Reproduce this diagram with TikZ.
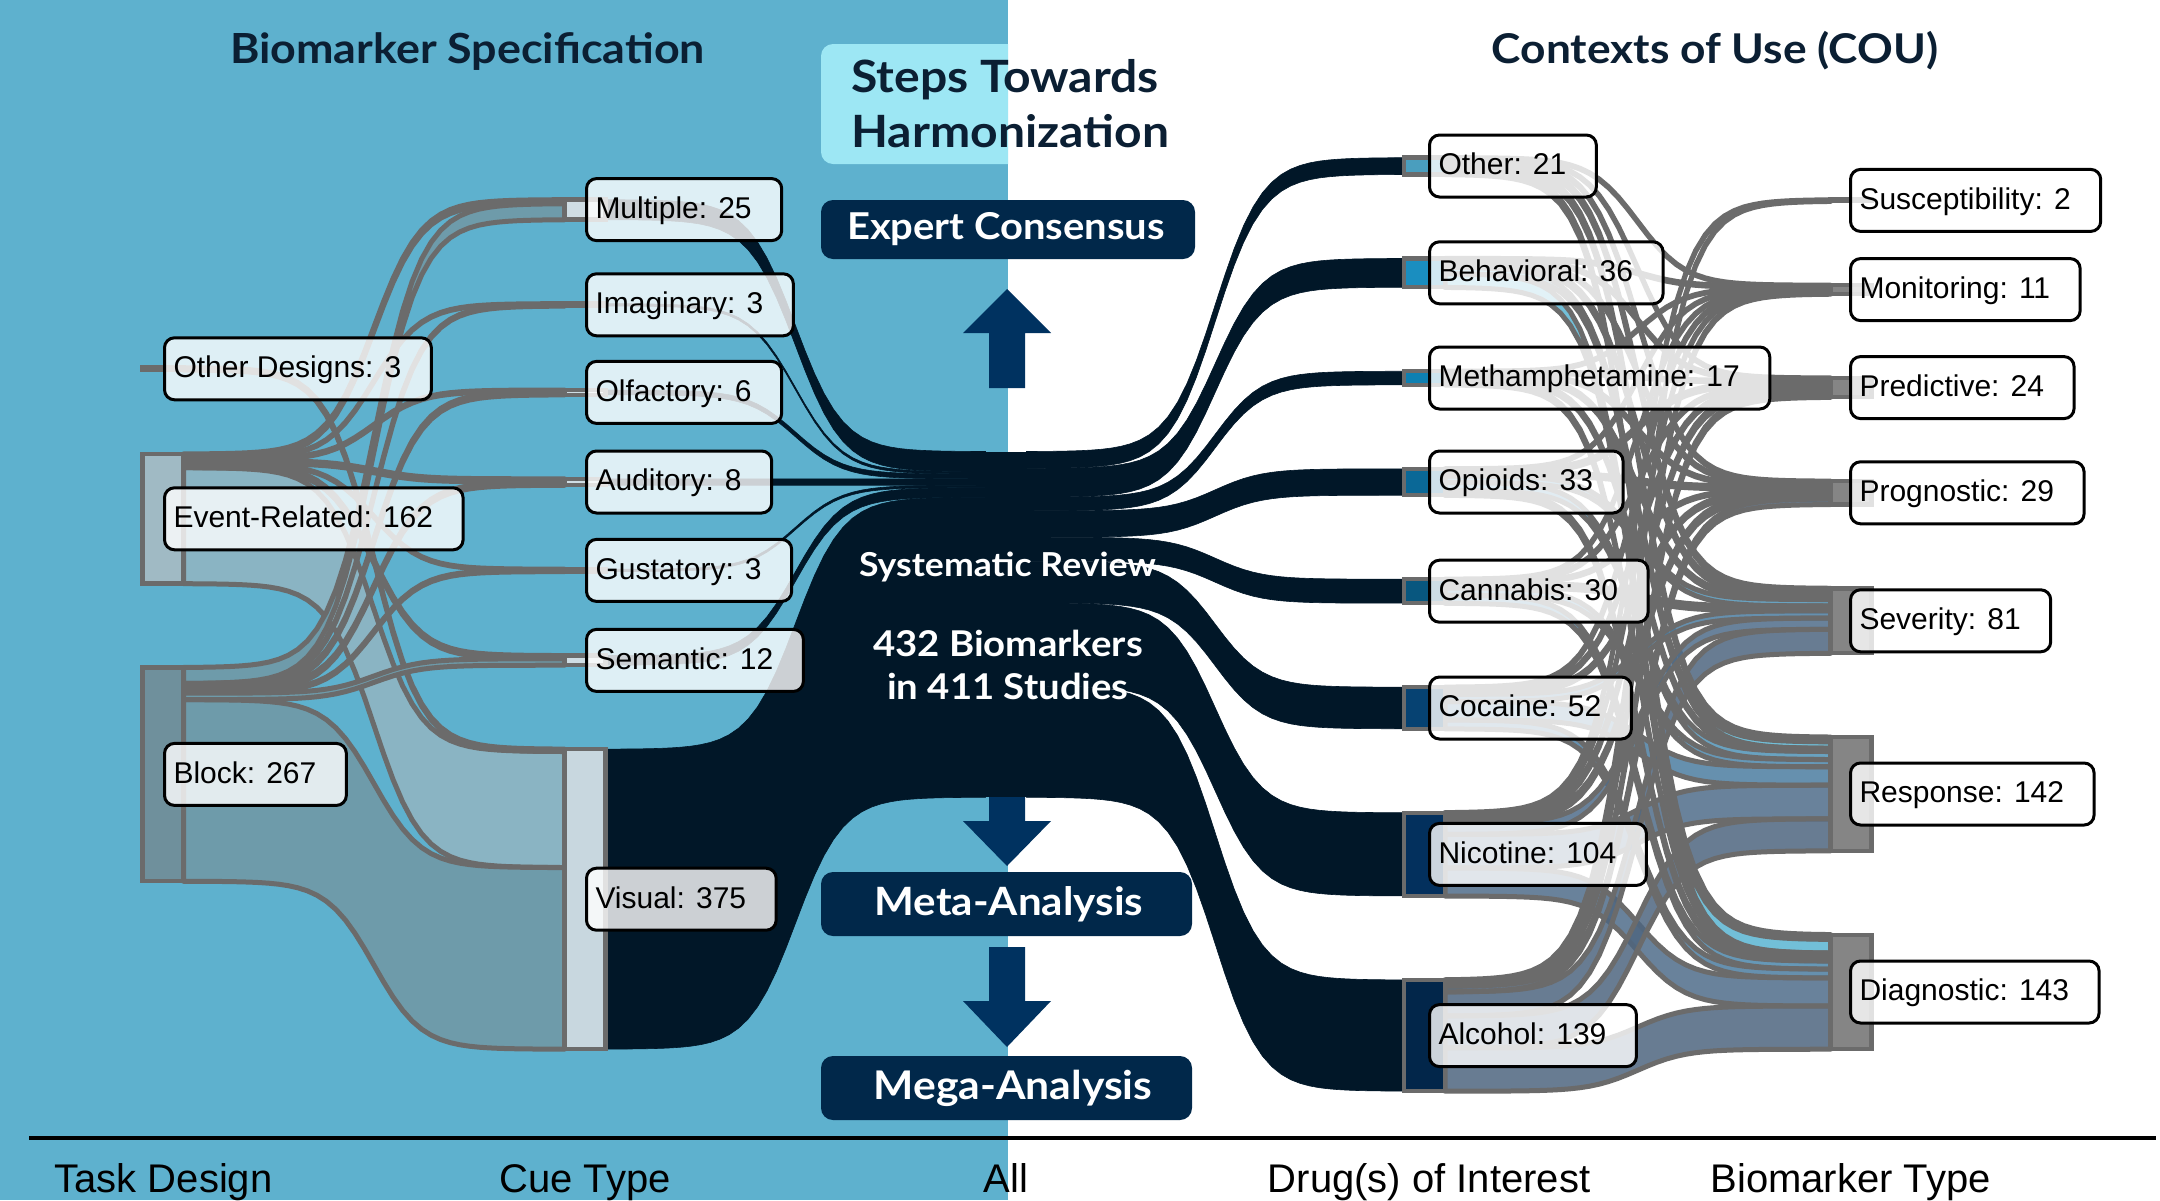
\documentclass[tikz,border=0pt]{standalone}
\usepackage{fontspec}
\setmainfont{Liberation Sans}
\newfontfamily\latofont{Lato}[FakeStretch=1.08]
\pgfdeclarelayer{bg}
\pgfdeclarelayer{flowA}
\pgfdeclarelayer{flowB}
\pgfsetlayers{bg,flowA,flowB,main}
\definecolor{bgblue}{HTML}{5EB1CE}
\definecolor{navy}{HTML}{011728}
\definecolor{flowgrey}{HTML}{6B6B6B}
\definecolor{titlecol}{HTML}{0B1F33}
\definecolor{boxnavy}{HTML}{01284A}
\definecolor{arrowcol}{HTML}{003260}
\definecolor{stepscyan}{HTML}{9DE7F4}
\definecolor{erflow}{HTML}{8AB4C3}
\definecolor{blflow}{HTML}{6E9BAA}
\definecolor{othfc}{HTML}{D3D3D3}
\definecolor{behfc}{HTML}{5AB4D2}
\definecolor{methfc}{HTML}{5AA6C6}
\definecolor{opifc}{HTML}{4F92B5}
\definecolor{canfc}{HTML}{4C86AB}
\definecolor{cocfc}{HTML}{4C7DA0}
\definecolor{nicfc}{HTML}{4F6D8A}
\definecolor{alcfc}{HTML}{4E6680}
\definecolor{odn}{HTML}{8C8C8C}
\definecolor{ern}{HTML}{A0BAC4}
\definecolor{bln}{HTML}{6F909C}
\definecolor{cuen}{HTML}{CFDDE4}
\definecolor{visn}{HTML}{C8D7DF}
\definecolor{othn}{HTML}{4A9EBE}
\definecolor{behn}{HTML}{1A8EC0}
\definecolor{methn}{HTML}{0E80B2}
\definecolor{opin}{HTML}{0A6897}
\definecolor{cann}{HTML}{08577F}
\definecolor{cocn}{HTML}{064272}
\definecolor{nicn}{HTML}{03305D}
\definecolor{alcn}{HTML}{02264A}
\definecolor{typen}{HTML}{858585}

\newcommand\kk{0.8}
\newcommand\gapp{84}
\newcommand\midY{624.4}
\newcommand\hw{20.5}
\newcommand\startcol[2]{%
  \pgfmathsetmacro\tmpv{\midY-(432*\kk+(#2-1)*\gapp)/2}%
  \xdef\curY{\tmpv}\xdef\curX{#1}}
\newcommand\addnode[2]{%
  \expandafter\xdef\csname nx@#1\endcsname{\curX}%
  \expandafter\xdef\csname nt@#1\endcsname{\curY}%
  \expandafter\xdef\csname nv@#1\endcsname{#2}%
  \expandafter\xdef\csname no@#1\endcsname{0}%
  \expandafter\xdef\csname ni@#1\endcsname{0}%
  \pgfmathsetmacro\tmpv{\curY+#2*\kk+\gapp}\xdef\curY{\tmpv}}
\newcommand\flow[5]{%
  \pgfmathsetmacro\fxa{\csname nx@#2\endcsname+\hw}%
  \pgfmathsetmacro\fxb{\csname nx@#3\endcsname-\hw}%
  \pgfmathsetmacro\fya{\csname nt@#2\endcsname+\csname no@#2\endcsname}%
  \pgfmathsetmacro\fyb{\csname nt@#3\endcsname+\csname ni@#3\endcsname}%
  \pgfmathsetmacro\fw{#4*\kk}%
  \begin{pgfonlayer}{#1}%
  \path[#5] plot[domain=-8:8,samples=41,variable=\uu] ({\fxa+(\uu+8)/16*(\fxb-\fxa)},{\fya+(\fyb-\fya)/(1+exp(-(\uu)))})
    -- plot[domain=-8:8,samples=41,variable=\uu] ({\fxa+(8-\uu)/16*(\fxb-\fxa)},{\fya+\fw+(\fyb-\fya)/(1+exp(\uu))}) -- cycle;%
  \end{pgfonlayer}%
  \pgfmathsetmacro\tmpv{\csname no@#2\endcsname+\fw}\expandafter\xdef\csname no@#2\endcsname{\tmpv}%
  \pgfmathsetmacro\tmpv{\csname ni@#3\endcsname+\fw}\expandafter\xdef\csname ni@#3\endcsname{\tmpv}}
\newcommand\drawbar[2]{%
  \pgfmathsetmacro\bh{\csname nv@#1\endcsname*\kk}%
  \pgfmathsetmacro\bc{\csname nt@#1\endcsname+\bh/2}%
  \node[barnode, fill=#2, minimum height=\bh] (bar-#1) at (\csname nx@#1\endcsname,\bc) {};}
\newcommand\lab[3]{%
  \pgfmathsetmacro\bc{\csname nt@#1\endcsname+\csname nv@#1\endcsname*\kk/2}%
  \node[labbox, anchor=west] (lab-#1) at (#2,\bc) {#3\kern21pt};}

\tikzset{
  navyfl/.style={fill=navy, draw=navy, line width=0.6},
  thinfl/.style={fill=#1, draw=flowgrey, line width=5, line join=round},
  dfl/.style={fill=#1, fill opacity=0.85, draw=flowgrey, line width=5, line join=round},
  barnode/.style={rectangle, draw=flowgrey, line width=4.5, minimum width=41, inner sep=0pt, outer sep=0pt},
  labbox/.style={rectangle, draw=black, line width=3, rounded corners=10, fill=white, fill opacity=0.8, text opacity=1,
     inner xsep=9, inner ysep=0, minimum height=62, text height=24, text depth=6.4, font=\fontsize{30}{36}\selectfont},
  darkbox/.style={rectangle, fill=boxnavy, rounded corners=12, inner sep=0pt},
  boxtext/.style={text=white, font=\latofont\bfseries\fontsize{#1}{#1}\selectfont, anchor=base},
  titletext/.style={text=titlecol, font=\latofont\bfseries\fontsize{#1}{#1}\selectfont},
  axistext/.style={font=\fontsize{40}{46}\selectfont, anchor=base},
}

\begin{document}
\begin{tikzpicture}[x=1pt,y=-1pt]
\useasboundingbox (0,0) rectangle (2160,1200);
\begin{pgfonlayer}{bg}
\fill[white] (0,0) rectangle (2160,1200);
\fill[bgblue] (0,0) rectangle (1008,1200);
\begin{scope}
\clip (0,0) rectangle (1008,1200);
\fill[stepscyan, rounded corners=12] (821,44) rectangle (1230,164);
\end{scope}
\end{pgfonlayer}

% ---- columns ----
\startcol{163}{3}
\addnode{od}{3}\addnode{er}{162}\addnode{block}{267}
\startcol{585}{7}
\addnode{mult}{25}\addnode{imag}{3}\addnode{olf}{6}\addnode{aud}{8}\addnode{gust}{3}\addnode{sem}{12}\addnode{vis}{375}
\startcol{1006}{1}
\addnode{all}{432}
\startcol{1424.5}{8}
\addnode{oth}{21}\addnode{beh}{36}\addnode{meth}{17}\addnode{opi}{33}\addnode{can}{30}\addnode{coc}{52}\addnode{nic}{104}\addnode{alc}{139}
\startcol{1851}{7}
\addnode{sus}{2}\addnode{mon}{11}\addnode{pred}{24}\addnode{prog}{29}\addnode{sev}{81}\addnode{resp}{142}\addnode{diag}{143}

% ---- task -> cue ----
\flow{flowB}{od}{vis}{3}{thinfl=odn}
\flow{flowB}{er}{mult}{5}{thinfl=erflow}
\flow{flowB}{er}{imag}{1}{thinfl=erflow}
\flow{flowB}{er}{olf}{2}{thinfl=erflow}
\flow{flowB}{er}{aud}{4}{thinfl=erflow}
\flow{flowB}{er}{gust}{1}{thinfl=erflow}
\flow{flowB}{er}{sem}{4}{thinfl=erflow}
\flow{flowA}{er}{vis}{145}{thinfl=erflow}
\flow{flowB}{block}{mult}{20}{thinfl=blflow}
\flow{flowB}{block}{imag}{2}{thinfl=blflow}
\flow{flowB}{block}{olf}{4}{thinfl=blflow}
\flow{flowB}{block}{aud}{4}{thinfl=blflow}
\flow{flowB}{block}{gust}{2}{thinfl=blflow}
\flow{flowB}{block}{sem}{8}{thinfl=blflow}
\flow{flowA}{block}{vis}{227}{thinfl=blflow}

% ---- cue -> all ----
\flow{flowA}{mult}{all}{25}{navyfl}
\flow{flowA}{imag}{all}{3}{navyfl}
\flow{flowA}{olf}{all}{6}{navyfl}
\flow{flowA}{aud}{all}{8}{navyfl}
\flow{flowA}{gust}{all}{3}{navyfl}
\flow{flowA}{sem}{all}{12}{navyfl}
\flow{flowA}{vis}{all}{375}{navyfl}

% ---- all -> drug ----
\flow{flowA}{all}{oth}{21}{navyfl}
\flow{flowA}{all}{beh}{36}{navyfl}
\flow{flowA}{all}{meth}{17}{navyfl}
\flow{flowA}{all}{opi}{33}{navyfl}
\flow{flowA}{all}{can}{30}{navyfl}
\flow{flowA}{all}{coc}{52}{navyfl}
\flow{flowA}{all}{nic}{104}{navyfl}
\flow{flowA}{all}{alc}{139}{navyfl}

% ---- drug -> biomarker type ----
\flow{flowB}{oth}{mon}{1}{dfl=othfc}
\flow{flowB}{oth}{pred}{1}{dfl=othfc}
\flow{flowB}{oth}{prog}{2}{dfl=othfc}
\flow{flowB}{oth}{sev}{5}{dfl=othfc}
\flow{flowB}{oth}{resp}{6}{dfl=othfc}
\flow{flowB}{oth}{diag}{6}{dfl=othfc}
\flow{flowB}{beh}{mon}{2}{dfl=behfc}
\flow{flowB}{beh}{pred}{2}{dfl=behfc}
\flow{flowB}{beh}{prog}{2}{dfl=behfc}
\flow{flowB}{beh}{sev}{5}{dfl=behfc}
\flow{flowB}{beh}{resp}{8}{dfl=behfc}
\flow{flowB}{beh}{diag}{17}{dfl=behfc}
\flow{flowB}{meth}{mon}{1}{dfl=methfc}
\flow{flowB}{meth}{pred}{2}{dfl=methfc}
\flow{flowB}{meth}{prog}{2}{dfl=methfc}
\flow{flowB}{meth}{sev}{4}{dfl=methfc}
\flow{flowB}{meth}{resp}{4}{dfl=methfc}
\flow{flowB}{meth}{diag}{4}{dfl=methfc}
\flow{flowB}{opi}{mon}{1}{dfl=opifc}
\flow{flowB}{opi}{pred}{4}{dfl=opifc}
\flow{flowB}{opi}{prog}{4}{dfl=opifc}
\flow{flowB}{opi}{sev}{8}{dfl=opifc}
\flow{flowB}{opi}{resp}{10}{dfl=opifc}
\flow{flowB}{opi}{diag}{6}{dfl=opifc}
\flow{flowB}{can}{mon}{1}{dfl=canfc}
\flow{flowB}{can}{pred}{2}{dfl=canfc}
\flow{flowB}{can}{prog}{2}{dfl=canfc}
\flow{flowB}{can}{sev}{6}{dfl=canfc}
\flow{flowB}{can}{resp}{9}{dfl=canfc}
\flow{flowB}{can}{diag}{10}{dfl=canfc}
\flow{flowB}{coc}{mon}{2}{dfl=cocfc}
\flow{flowB}{coc}{pred}{3}{dfl=cocfc}
\flow{flowB}{coc}{prog}{4}{dfl=cocfc}
\flow{flowB}{coc}{sev}{9}{dfl=cocfc}
\flow{flowA}{coc}{resp}{23}{dfl=cocfc}
\flow{flowB}{coc}{diag}{11}{dfl=cocfc}
\flow{flowB}{nic}{sus}{1}{dfl=nicfc}
\flow{flowB}{nic}{mon}{1}{dfl=nicfc}
\flow{flowB}{nic}{pred}{5}{dfl=nicfc}
\flow{flowB}{nic}{prog}{6}{dfl=nicfc}
\flow{flowB}{nic}{sev}{14}{dfl=nicfc}
\flow{flowA}{nic}{resp}{42}{dfl=nicfc}
\flow{flowA}{nic}{diag}{35}{dfl=nicfc}
\flow{flowB}{alc}{sus}{1}{dfl=alcfc}
\flow{flowB}{alc}{mon}{2}{dfl=alcfc}
\flow{flowB}{alc}{pred}{5}{dfl=alcfc}
\flow{flowB}{alc}{prog}{7}{dfl=alcfc}
\flow{flowA}{alc}{sev}{30}{dfl=alcfc}
\flow{flowA}{alc}{resp}{40}{dfl=alcfc}
\flow{flowA}{alc}{diag}{54}{dfl=alcfc}

% ---- node bars ----
\drawbar{od}{odn}\drawbar{er}{ern}\drawbar{block}{bln}
\drawbar{mult}{cuen}\drawbar{imag}{cuen}\drawbar{olf}{cuen}\drawbar{aud}{cuen}\drawbar{gust}{cuen}\drawbar{sem}{cuen}\drawbar{vis}{visn}
\node[rectangle, fill=navy, minimum width=41, minimum height=345.6, inner sep=0pt] (bar-all) at (1006,624.4) {};
\drawbar{oth}{othn}\drawbar{beh}{behn}\drawbar{meth}{methn}\drawbar{opi}{opin}\drawbar{can}{cann}\drawbar{coc}{cocn}\drawbar{nic}{nicn}\drawbar{alc}{alcn}
\drawbar{sus}{typen}\drawbar{mon}{typen}\drawbar{pred}{typen}\drawbar{prog}{typen}\drawbar{sev}{typen}\drawbar{resp}{typen}\drawbar{diag}{typen}

% ---- labels ----
\lab{od}{163}{Other Designs: 3}
\lab{er}{163}{Event-Related: 162}
\lab{block}{163}{Block: 267}
\lab{mult}{585}{Multiple: 25}
\lab{imag}{585}{Imaginary: 3}
\lab{olf}{585}{Olfactory: 6}
\lab{aud}{585}{Auditory: 8}
\lab{gust}{585}{Gustatory: 3}
\lab{sem}{585}{Semantic: 12}
\lab{vis}{585}{Visual: 375}
\lab{oth}{1428}{Other: 21}
\lab{beh}{1428}{Behavioral: 36}
\lab{meth}{1428}{Methamphetamine: 17}
\lab{opi}{1428}{Opioids: 33}
\lab{can}{1428}{Cannabis: 30}
\lab{coc}{1428}{Cocaine: 52}
\lab{nic}{1428}{Nicotine: 104}
\lab{alc}{1428}{Alcohol: 139}
\lab{sus}{1849}{Susceptibility: 2}
\lab{mon}{1849}{Monitoring: 11}
\lab{pred}{1849}{Predictive: 24}
\lab{prog}{1849}{Prognostic: 29}
\lab{sev}{1849}{Severity: 81}
\lab{resp}{1849}{Response: 142}
\lab{diag}{1849}{Diagnostic: 143}

% ---- central texts ----
\node[boxtext=33] (sr) at (1007.5,576) {Systematic Review};
\node[boxtext=35.5] (bm1) at (1008,656.7) {432 Biomarkers};
\node[boxtext=35.5] (bm2) at (1008,699) {in 411 Studies};

% ---- titles ----
\node[titletext=41.5, anchor=base] (title1) at (467.5,63) {Biomarker Specification};
\node[titletext=41, anchor=base] (title2) at (1715,63) {Contexts of Use (COU)};
\node[titletext=44.5, anchor=base west] (steps1) at (848,92) {Steps Towards};
\node[titletext=44.5, anchor=base west] (steps2) at (848,147) {Harmonization};

% ---- harmonization boxes and arrows ----
\node[darkbox, minimum width=374, minimum height=59] (expert) at (1008,229.5) {};
\node[boxtext=37] (expertT) at (1006,239) {Expert Consensus};
\node[darkbox, minimum width=371, minimum height=64] (meta) at (1006.5,904) {};
\node[boxtext=39] (metaT) at (1009,915.7) {Meta-Analysis};
\node[darkbox, minimum width=371, minimum height=64] (mega) at (1006.5,1088) {};
\node[boxtext=39.5] (megaT) at (1013,1099.4) {Mega-Analysis};
\fill[arrowcol] (989,388) -- (989,333) -- (963,333) -- (1007,289) -- (1051,333) -- (1025,333) -- (1025,388) -- cycle;
\fill[arrowcol] (989,797) -- (989,821) -- (963,821) -- (1007,866) -- (1051,821) -- (1025,821) -- (1025,797) -- cycle;
\fill[arrowcol] (989,947) -- (989,1001) -- (963,1001) -- (1007,1047) -- (1051,1001) -- (1025,1001) -- (1025,947) -- cycle;

% ---- axis ----
\draw[line width=4.5] (29,1138) -- (2156,1138);
\node[axistext] (ax1) at (163.5,1192) {Task Design};
\node[axistext] (ax2) at (585,1192) {Cue Type};
\node[axistext] (ax3) at (1006,1192) {All};
\node[axistext] (ax4) at (1429,1192) {Drug(s) of Interest};
\node[axistext] (ax5) at (1850.5,1192) {Biomarker Type};
\end{tikzpicture}
\end{document}
